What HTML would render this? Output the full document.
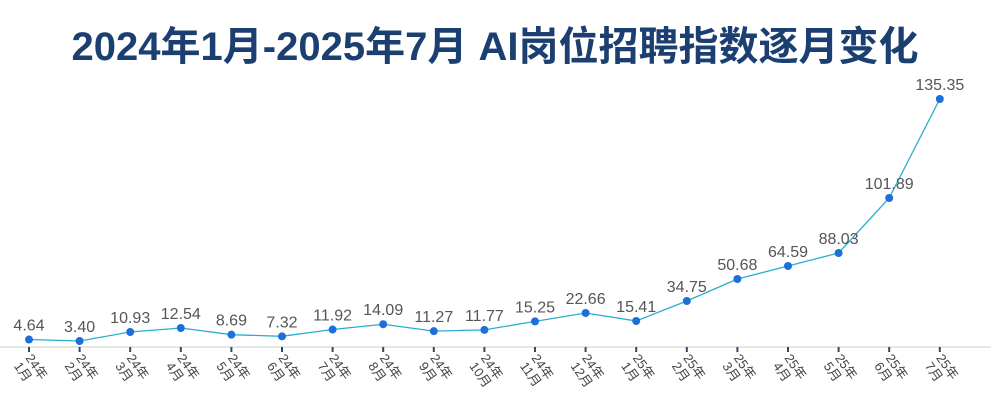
<!DOCTYPE html>
<html><head><meta charset="utf-8"><style>
body{margin:0;background:#fff;width:991px;height:412px;overflow:hidden}
</style></head><body>
<svg width="991" height="412">
<text x="495" y="60" text-anchor="middle" font-family="'Liberation Sans','Noto Sans CJK SC',sans-serif" font-weight="bold" font-size="40" fill="#1c3f72">2024年1月-2025年7月 AI岗位招聘指数逐月变化</text>
<line x1="0" y1="347" x2="991" y2="347" stroke="#ccc" stroke-width="1"/>
<g id="g"></g>
</svg>
<script>
const categories=["24年|1月","24年|2月","24年|3月","24年|4月","24年|5月","24年|6月","24年|7月","24年|8月","24年|9月","24年|10月","24年|11月","24年|12月","25年|1月","25年|2月","25年|3月","25年|4月","25年|5月","25年|6月","25年|7月"];
const values=[4.64,3.40,10.93,12.54,8.69,7.32,11.92,14.09,11.27,11.77,15.25,22.66,15.41,34.75,50.68,64.59,88.03,101.89,135.35];
// piecewise (non-linear) value axis as drawn in the original
const axisKnots=[0,3.4,10.93,12.54,15.41,22.66,34.75,50.68,64.59,88.03,101.89,135.35];
const axisPix=[347,341,332,328,321,313,301,279,266,253,198,99];
const ns="http://www.w3.org/2000/svg";
const g=document.getElementById('g');
const xs=i=>29+i*50.6;
function ys(v){
  for(let k=1;k<axisKnots.length;k++){
    if(v<=axisKnots[k]||k===axisKnots.length-1){
      const t=(v-axisKnots[k-1])/(axisKnots[k]-axisKnots[k-1]);
      return axisPix[k-1]+t*(axisPix[k]-axisPix[k-1]);
    }
  }
}
const ff="'Liberation Sans','Noto Sans CJK SC',sans-serif";
function mk(t,a){const e=document.createElementNS(ns,t);for(const k in a)e.setAttribute(k,a[k]);g.appendChild(e);return e;}
const pts=values.map((v,i)=>xs(i)+","+ys(v)).join(" ");
const line=mk('polyline',{points:pts,fill:'none',stroke:'#2aaecf','stroke-width':1.3});


values.forEach((v,i)=>{
  const x=xs(i),y=ys(v);
  const tk=mk('line',{x1:x,y1:347,x2:x,y2:352,stroke:'#2a4a6a','stroke-width':2});
  
  
  const c=mk('circle',{cx:x,cy:y,r:4,fill:'#1f6fd8'});
  
  
  const t=mk('text',{x:x,y:y-9,'text-anchor':'middle','font-family':ff,'font-size':16,fill:'#555'});
  t.textContent=v.toFixed(2);
  
  
  const [a,b]=categories[i].split("|");
  const lt=mk('text',{transform:`translate(${x-4},${358}) rotate(55)`,'font-family':ff,'font-size':13,fill:'#444'});
  
  
  const s1=document.createElementNS(ns,'tspan');s1.setAttribute('x',0);s1.setAttribute('y',0);s1.textContent=a;lt.appendChild(s1);
  const s2=document.createElementNS(ns,'tspan');s2.setAttribute('x',0);s2.setAttribute('y',14);s2.textContent=b;lt.appendChild(s2);
});
</script>
</body></html>
